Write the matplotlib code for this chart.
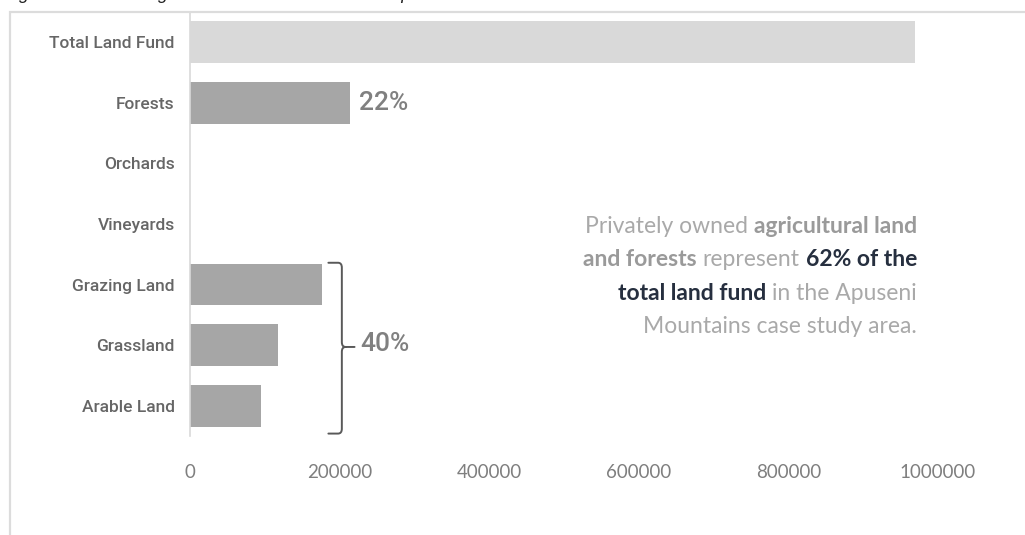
import matplotlib
matplotlib.use("Agg")
import matplotlib.pyplot as plt
from matplotlib.path import Path
import matplotlib.patches as patches

# land fund by use category (ha)
categories = ["Arable Land", "Grassland", "Grazing Land", "Vineyards", "Orchards", "Forests", "Total Land Fund"]
areas = [95000, 118000, 176000, 0, 0, 214000, 969000]
bar_colors = ["#a6a6a6"] * 6 + ["#d9d9d9"]
xticks = [0, 200000, 400000, 600000, 800000, 1000000]

total = areas[-1]
forests = areas[5]
agri = areas[0] + areas[1] + areas[2]

W, H = 1025, 535
fig = plt.figure(figsize=(W / 100, H / 100), dpi=100)
fig.patch.set_facecolor("white")

# light frame round the chart, open at the right and bottom
frame = patches.Rectangle((10 / W, -0.01), 1.05, 1 - 12 / H + 0.01, transform=fig.transFigure,
                          fill=False, edgecolor="#dcdcdc", lw=1.6)
fig.patches.append(frame)

# caption sits above the frame, only its descenders inside the page
fig.text(4 / W, 1 + 1 / H, "Figure 5. Land using structure at the level of the Apuseni Mountains area",
         fontsize=13, style="italic", family="Liberation Sans", color="#222222", va="baseline")

ax = fig.add_axes([190 / W, 99 / H, 748 / W, 424 / H])
ypos = list(range(len(categories)))
ax.barh(ypos, areas, height=0.69, color=bar_colors)

ax.set_xlim(0, 1000000)
ax.set_ylim(-0.5, 6.5)
ax.set_yticks(ypos)
ax.set_yticklabels(categories, family="Roboto", fontweight="medium", fontsize=12.5, color="#666666")
ax.set_xticks(xticks)
ax.set_xticklabels([str(t) for t in xticks], family="Lato", fontsize=13.5, color="#7f7f7f")
ax.tick_params(axis="both", length=0)
ax.tick_params(axis="y", pad=11)
ax.tick_params(axis="x", pad=20)
for s in ["top", "right", "bottom"]:
    ax.spines[s].set_visible(False)
ax.spines["left"].set_color("#d9d9d9")
ax.spines["left"].set_linewidth(1.2)

# share labels
pct_font = dict(family="Roboto", fontsize=19, color="#808080",
                fontweight="medium", va="center", ha="left")
ax.text(forests + 12000, 5, "%d%%" % round(100 * forests / total), **pct_font)

# bracket round the three agricultural bars
bx = max(areas[:3]) + 27000
arm = 18000
top, bot, mid = 2 + 0.36, -0.46, 0.97
rx, ry = 5000, 0.08
verts = [(bx - arm, top), (bx - rx, top), (bx, top), (bx, top - ry),
         (bx, mid + ry), (bx, mid), (bx + rx, mid), (bx + 17000, mid),
         (bx + rx, mid), (bx, mid), (bx, mid - ry),
         (bx, bot + ry), (bx, bot), (bx - rx, bot), (bx - arm, bot)]
codes = [Path.MOVETO, Path.LINETO, Path.CURVE3, Path.CURVE3,
         Path.LINETO, Path.CURVE3, Path.CURVE3, Path.LINETO,
         Path.MOVETO, Path.CURVE3, Path.CURVE3,
         Path.LINETO, Path.CURVE3, Path.CURVE3, Path.LINETO]
ax.add_patch(patches.PathPatch(Path(verts, codes), fill=False, edgecolor="#595959", lw=1.4,
                               capstyle="round", joinstyle="round"))
ax.text(bx + 24000, mid + 0.05, "%d%%" % round(100 * agri / total), **pct_font)

# right-aligned note with mixed weights
light = "#a9a9a9"
mid_grey = "#9a9a9a"
dark = "#262f3f"
share = round(100 * (forests + agri) / total)
lines = [
    [("Privately owned", "normal", light), ("agricultural land", "bold", mid_grey)],
    [("and forests", "bold", mid_grey), ("represent", "normal", light), ("%d%% of the" % share, "bold", dark)],
    [("total land fund", "bold", dark), ("in the Apuseni", "normal", light)],
    [("Mountains case study area.", "normal", light)],
]
note_size = 16.5
renderer = fig.canvas.get_renderer()
space = fig.text(0, 0, "a a", fontsize=note_size, family="Lato")
nospace = fig.text(0, 0, "aa", fontsize=note_size, family="Lato")
gap = space.get_window_extent(renderer).width - nospace.get_window_extent(renderer).width
space.remove()
nospace.remove()

x_right = 917
baseline = 233
for i, parts in enumerate(lines):
    x = x_right
    y = 1 - (baseline + i * 33.3) / H
    for s, w, c in reversed(parts):
        t = fig.text(x / W, y, s, ha="right", va="baseline", fontsize=note_size,
                     family="Lato", fontweight=w, color=c)
        bb = t.get_window_extent(renderer)
        x = bb.x0 - gap

fig.savefig("out.png", dpi=100, facecolor="white")
